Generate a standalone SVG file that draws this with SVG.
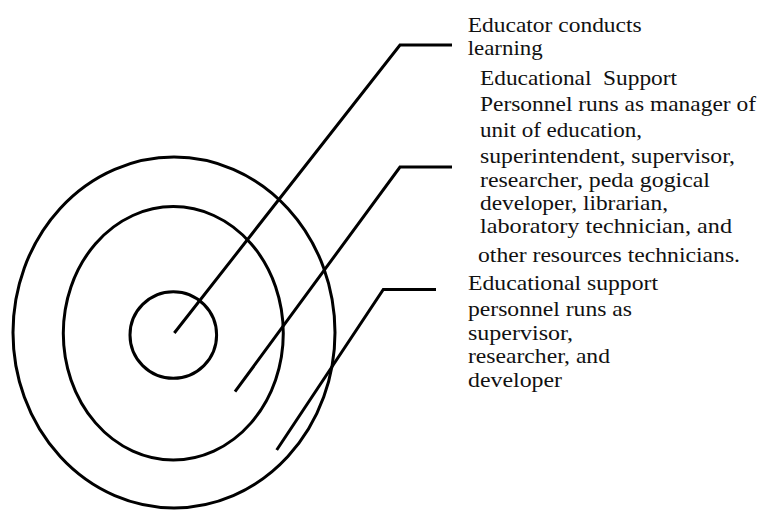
<svg xmlns="http://www.w3.org/2000/svg" width="763" height="510" viewBox="0 0 763 510">
<style>
.ring{fill:none;stroke:#000;stroke-width:3}
.conn{fill:none;stroke:#000;stroke-width:3;stroke-linejoin:miter}
.t{font-family:"Liberation Serif","Times New Roman",serif;font-size:21px;fill:#111}
</style>
<rect width="763" height="510" fill="#fff"/>
<g id="ring-outer"><ellipse class="ring" cx="174" cy="332.5" rx="161" ry="175.5"/></g>
<g id="ring-middle"><ellipse class="ring" cx="173.3" cy="333.3" rx="110" ry="126.7"/></g>
<g id="ring-inner"><ellipse class="ring" cx="173.3" cy="335" rx="43.3" ry="43.3"/></g>
<g id="connectors">
<polyline class="conn" points="174.3,333 400,45 452,45"/>
<polyline class="conn" points="235,391.7 400,167 452,167"/>
<polyline class="conn" points="276.7,450 383.3,289.5 436,289.5"/>
</g>
<g id="label-educator">
<text class="t" x="467.7" y="32" textLength="174" lengthAdjust="spacingAndGlyphs">Educator conducts</text>
<text class="t" x="467.7" y="55" textLength="75" lengthAdjust="spacingAndGlyphs">learning</text>
</g>
<g id="label-support-personnel">
<text class="t" x="480" y="85" textLength="197" lengthAdjust="spacingAndGlyphs" xml:space="preserve">Educational  Support</text>
<text class="t" x="480" y="111" textLength="276" lengthAdjust="spacingAndGlyphs">Personnel runs as manager of</text>
<text class="t" x="480" y="137" textLength="162" lengthAdjust="spacingAndGlyphs">unit of education,</text>
<text class="t" x="480" y="163" textLength="255" lengthAdjust="spacingAndGlyphs">superintendent, supervisor,</text>
<text class="t" x="480" y="187" textLength="230" lengthAdjust="spacingAndGlyphs">researcher, peda gogical</text>
<text class="t" x="480" y="210" textLength="188" lengthAdjust="spacingAndGlyphs">developer, librarian,</text>
<text class="t" x="480" y="233" textLength="252" lengthAdjust="spacingAndGlyphs">laboratory technician, and</text>
<text class="t" x="478" y="262" textLength="262" lengthAdjust="spacingAndGlyphs">other resources technicians.</text>
</g>
<g id="label-support-outer">
<text class="t" x="468" y="290" textLength="190" lengthAdjust="spacingAndGlyphs">Educational support</text>
<text class="t" x="468" y="316" textLength="164" lengthAdjust="spacingAndGlyphs">personnel runs as</text>
<text class="t" x="468" y="340" textLength="105" lengthAdjust="spacingAndGlyphs">supervisor,</text>
<text class="t" x="468" y="363" textLength="142" lengthAdjust="spacingAndGlyphs">researcher, and</text>
<text class="t" x="468" y="387" textLength="94" lengthAdjust="spacingAndGlyphs">developer</text>
</g>
</svg>
